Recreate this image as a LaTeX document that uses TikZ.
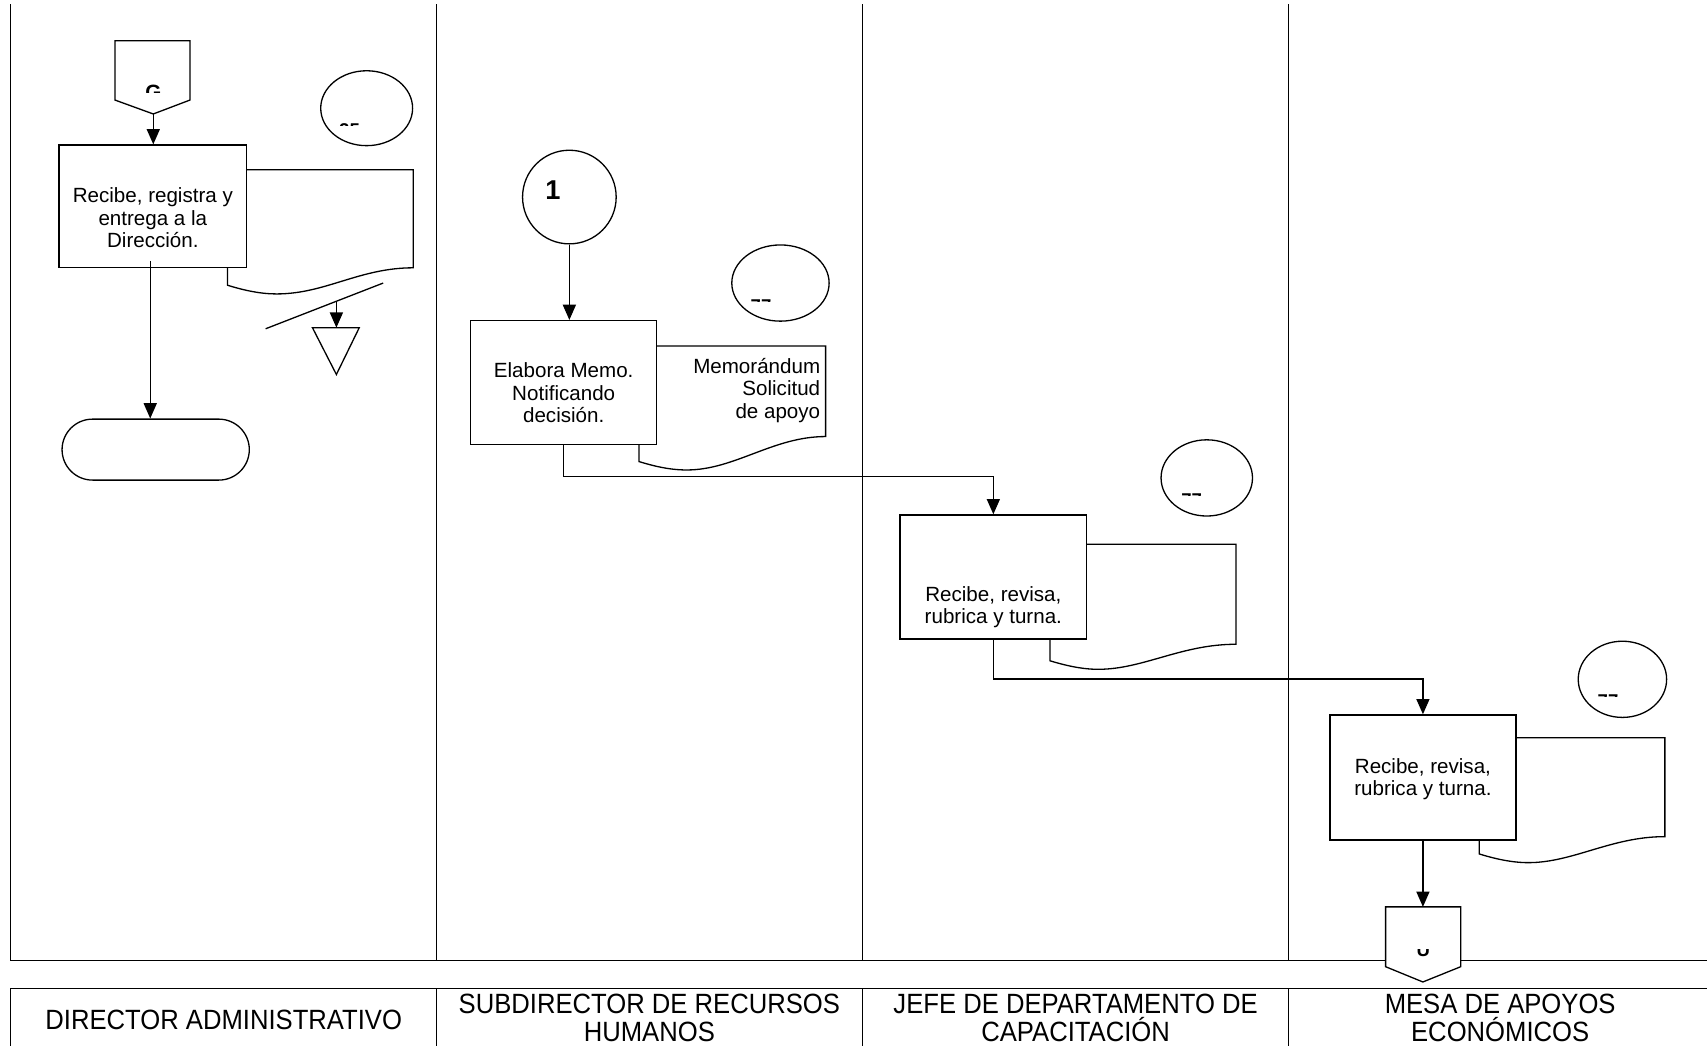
\documentclass[tikz,border=0pt]{standalone}
\usepackage{fontspec}
\setmainfont{Liberation Sans}
\newfontfamily\headfont[FakeStretch=0.92]{Liberation Sans}
\usetikzlibrary{arrows.meta,shapes.geometric}
\begin{document}
\begin{tikzpicture}[x=1pt,y=-1pt,line width=1.2pt,
  proc/.style={draw,fill=white,rectangle,inner sep=0pt},
  bub/.style={draw,ellipse,inner sep=0pt},
  txt/.style={align=center,inner sep=0pt,font=\fontsize{18.9}{20.6}\selectfont},
  head/.style={align=center,inner sep=0pt,font=\headfont\fontsize{25.6}{25}\selectfont},
  arr/.style={-{Triangle[length=14pt,width=12pt]}},
  lane/.style={line width=0.9pt},
  frag/.style={inner sep=0pt,font=\bfseries\fontsize{17}{17}\selectfont},
  docshape/.style={draw,fill=white}]
\useasboundingbox (0,0) rectangle (1568,960);
\fill[white] (0,0) rectangle (1568,960);
% swim lanes
\draw[lane] (10,4) -- (10,882) -- (1568,882);
\draw[lane] (401,4) -- (401,882);
\draw[lane] (792,4) -- (792,882);
\draw[lane] (1184,4) -- (1184,882);
% header row
\draw[lane] (10,962) -- (10,908) -- (1568,908);
\draw[lane] (401,908) -- (401,962);
\draw[lane] (792,908) -- (792,962);
\draw[lane] (1184,908) -- (1184,962);
\node[head] (h1) at (205.5,937) {DIRECTOR ADMINISTRATIVO};
\node[head] (h2) at (596.5,935) {SUBDIRECTOR DE RECURSOS\\HUMANOS};
\node[head] (h3) at (988,935) {JEFE DE DEPARTAMENTO DE\\CAPACITACIÓN};
\node[head] (h4) at (1378,935) {MESA DE APOYOS\\ECONÓMICOS};

% ---------- lane 1 ----------
\draw[fill=white] (105.6,37.4) -- (174.5,37.4) -- (174.5,91.9) -- (140.8,104.7) -- (105.6,91.9) -- cycle;
\coordinate (oc1tip) at (140.8,104.7);
\begin{scope}
  \clip (126,77.3) rectangle (156,84.6);
  \node[frag,font=\bfseries\fontsize{19}{19}\selectfont,anchor=north] (g1) at (141,77.5) {G};
\end{scope}
\node[bub,minimum width=84.4pt,minimum height=68.8pt] (e1) at (336.8,99.4) {};
\begin{scope}
  \clip (305,112.9) rectangle (340,115.4);
  \node[frag,anchor=north west] (f1) at (311,113.1) {25};
\end{scope}
\draw[docshape] (209,156) -- (379.6,156) -- (379.6,246)
  .. controls (330,246) and (299,270) .. (254,270)
  .. controls (240,270) and (225,267) .. (209,262) -- cycle;
\node[proc,minimum width=172.4pt,minimum height=112.8pt] (b1) at (140.4,189.6) {};
\node[txt] (t1) at (140.4,200) {Recibe, registra y\\entrega a la\\Dirección.};
\draw[arr] (oc1tip) -- (oc1tip |- b1.north);
\draw (244,302) -- (352,260);
\coordinate (s1) at (309,277);
\draw (287,301) -- (330,301) -- (309,344) -- cycle;
\coordinate (tri) at (309,301);
\draw[arr] (s1) -- (tri);
\node[draw,rounded corners=28pt,minimum width=172pt,minimum height=56pt,inner sep=0pt] (term) at (143,413) {};
\draw[arr] ([xshift=-2.4pt,yshift=7pt]b1.south) -- ([xshift=-5pt]term.north);

% ---------- lane 2 ----------
\node[draw,circle,minimum size=86pt,inner sep=0pt] (c1) at (523,181) {};
\node[inner sep=0pt,font=\bfseries\fontsize{25}{25}\selectfont] (one) at (508,175) {1};
\node[bub,minimum width=89.4pt,minimum height=70pt] (e2) at (716.9,260) {};
\begin{scope}
  \clip (685,274.2) rectangle (715,276.5);
  \node[frag,anchor=north west] (f2) at (689,274.4) {77};
\end{scope}
\draw[docshape] (587,317.8) -- (758.4,317.8) -- (758.4,401)
  .. controls (710,401) and (675,431.7) .. (630.7,431.7)
  .. controls (615,431.7) and (600,428) .. (587,424) -- cycle;
\node[proc,minimum width=170.9pt,minimum height=113.6pt] (b2) at (517.8,351.3) {};
\node[txt] (t2) at (517.8,361) {Elabora Memo.\\Notificando\\decisión.};
\node[txt,align=right,anchor=east] (m2) at (754,358.6) {Memorándum\\Solicitud\\de apoyo};
\draw[arr] (c1.south) -- (c1.south |- b2.north);

% ---------- lane 3 ----------
\node[bub,minimum width=84pt,minimum height=70pt] (e3) at (1108.5,439) {};
\begin{scope}
  \clip (1080,452.6) rectangle (1110,454.9);
  \node[frag,anchor=north west] (f3) at (1084.5,452.8) {77};
\end{scope}
\draw[docshape] (964.5,500) -- (1135.3,500) -- (1135.3,591.8)
  .. controls (1085,591.8) and (1050,614.8) .. (1008.8,614.8)
  .. controls (993,614.8) and (978,611) .. (964.5,607) -- cycle;
\node[proc,minimum width=171.5pt,minimum height=114pt] (b3) at (912.45,530) {};
\node[txt] (t3) at (912.45,557.8) {Recibe, revisa,\\rubrica y turna.};
\draw[arr] (b2.south) -- (b2.south |- 0,437.8) -| (b3.north);

% ---------- lane 4 ----------
\node[bub,minimum width=81.2pt,minimum height=70pt] (e4) at (1490.3,624) {};
\begin{scope}
  \clip (1462,637.6) rectangle (1492,639.9);
  \node[frag,anchor=north west] (f4) at (1467,637.8) {77};
\end{scope}
\draw[docshape] (1358.8,677.6) -- (1529.3,677.6) -- (1529.3,768.5)
  .. controls (1480,768.5) and (1445,792.4) .. (1403.8,792.4)
  .. controls (1388,792.4) and (1372,788.5) .. (1358.8,784.4) -- cycle;
\node[proc,minimum width=170.9pt,minimum height=114.9pt] (b4) at (1307.05,714.15) {};
\node[txt] (t4) at (1307.05,715.7) {Recibe, revisa,\\rubrica y turna.};
\draw[arr] (b3.south) -- ++(0,36) -| (b4.north);
\draw[fill=white] (1272.8,833) -- (1341.7,833) -- (1341.7,888) -- (1307,902) -- (1272.8,888) -- cycle;
\coordinate (oc2) at (1307.05,833);
\begin{scope}
  \clip (1295,872.4) rectangle (1320,880);
  \node[frag,font=\bfseries\fontsize{17}{17}\selectfont,anchor=base] (u1) at (1307.4,878.5) {U};
\end{scope}
\draw[arr] (b4.south) -- (oc2);
\end{tikzpicture}
\end{document}
